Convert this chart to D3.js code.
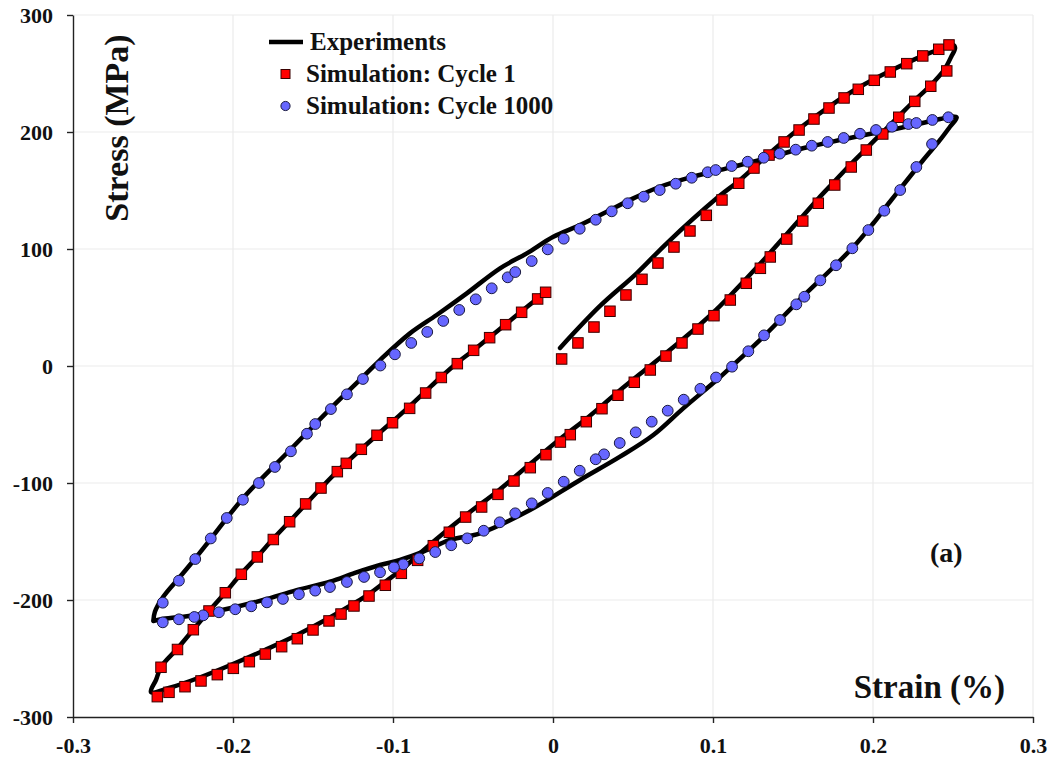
<!DOCTYPE html>
<html>
<head>
<meta charset="utf-8">
<script src="https://cdn.jsdelivr.net/npm/d3@7"></script>
<style>
  html, body { margin: 0; padding: 0; background: #fff; }
  svg { display: block; }
  svg text { font-family: "Liberation Serif", "Times New Roman", serif !important; font-weight: bold; }
</style>
</head>
<body>
<svg id="chart" width="1056" height="767"></svg>
<script>
// ---------------- DATA ----------------
const xTicks = [-0.3, -0.2, -0.1, 0, 0.1, 0.2, 0.3];
const xTickLabels = ["-0.3", "-0.2", "-0.1", "0", "0.1", "0.2", "0.3"];
const yTicks = [-300, -200, -100, 0, 100, 200, 300];
const yTickLabels = ["-300", "-200", "-100", "0", "100", "200", "300"];

const seriesNames = ["Experiments", "Simulation: Cycle 1", "Simulation: Cycle 1000"];
const xTitle = "Strain (%)";
const yTitle = "Stress (MPa)";
const panelLabel = "(a)";

// Experiments, cycle 1 (open path) [strain %, stress MPa]
const expCycle1 = [
  [0.0044,15.4],[0.0294,51.3],[0.0523,79.2],[0.0711,104.9],[0.1023,143.3],[0.1169,159.0],
  [0.1356,182.1],[0.1544,203.4],[0.1731,222.2],[0.1906,237.6],[0.2106,252.1],[0.2306,264.9],
  [0.2419,270.9],[0.2500,274.4],[0.2513,271.8],[0.2488,264.1],[0.2444,253.0],[0.2356,239.3],
  [0.2256,226.5],[0.2156,212.8],[0.2056,199.2],[0.1956,185.5],[0.1856,171.8],[0.1756,157.3],
  [0.1656,142.8],[0.1556,127.4],[0.1456,112.0],[0.1356,96.6],[0.1206,74.4],[0.1006,46.2],
  [0.0806,22.2],[0.0606,0.0],[0.0406,-22.2],[0.0206,-45.3],[0.0044,-62.4],[-0.0144,-83.8],
  [-0.0344,-106.8],[-0.0544,-127.4],[-0.0750,-150.4],[-0.0850,-162.4],[-0.0950,-174.4],
  [-0.1050,-184.6],[-0.1150,-194.9],[-0.1250,-203.4],[-0.1400,-215.4],[-0.1600,-229.9],
  [-0.1800,-242.7],[-0.2000,-254.7],[-0.2200,-265.8],[-0.2400,-275.2],[-0.2513,-278.6],
  [-0.2481,-268.3],[-0.2450,-257.3],[-0.2350,-241.9],[-0.2250,-225.6],[-0.2150,-209.4],
  [-0.2050,-194.0],[-0.1950,-177.8],[-0.1850,-163.2],[-0.1750,-147.9],[-0.1644,-132.5],
  [-0.1544,-117.9],[-0.1450,-104.3],[-0.1294,-82.9],[-0.1100,-59.0],[-0.1000,-47.0],
  [-0.0900,-35.0],[-0.0800,-22.2],[-0.0700,-9.4],[-0.0600,2.6],[-0.0494,13.7],[-0.0394,24.8],
  [-0.0294,35.9],[-0.0194,47.0],[-0.0094,58.1],[-0.0037,65.0]
];

// Experiments, cycle 1000 (closed loop)
const expCycle1000 = [
  [-0.2498,-217.9],[-0.2488,-210.0],[-0.2436,-197.2],[-0.2331,-180.1],[-0.2227,-163.0],
  [-0.2144,-148.7],[-0.1936,-112.8],[-0.1644,-71.8],[-0.1394,-36.8],[-0.1186,-9.1],
  [-0.1081,5.1],[-0.0894,27.9],[-0.0727,43.6],[-0.0539,62.1],[-0.0331,83.5],[-0.0164,96.3],
  [0.0002,110.5],[0.0169,120.5],[0.0336,131.9],[0.0502,143.3],[0.0669,153.2],[0.0836,160.4],
  [0.1002,166.1],[0.1294,176.1],[0.1544,185.5],[0.1856,194.9],[0.2169,203.4],[0.2419,211.1],
  [0.2494,213.2],[0.2523,212.4],[0.2481,204.5],[0.2419,193.2],[0.2314,176.1],[0.2189,154.7],
  [0.2106,140.4],[0.2002,122.0],[0.1898,104.9],[0.1752,84.4],[0.1544,57.0],[0.1336,27.9],
  [0.1127,0.9],[0.1023,-12.0],[0.0814,-36.2],[0.0627,-59.0],[0.0419,-77.5],[0.0169,-97.4],
  [-0.0144,-123.1],[-0.0456,-143.0],[-0.0644,-148.7],[-0.0811,-158.7],[-0.0956,-165.8],
  [-0.1081,-170.1],[-0.1238,-176.9],[-0.1394,-184.4],[-0.1602,-191.5],[-0.1811,-200.0],
  [-0.2019,-207.1],[-0.2227,-212.8],[-0.2436,-216.2],[-0.2498,-217.9]
];

// Simulation, cycle 1 (squares)
const simCycle1 = [
  [0.0054,6.0],[0.0156,19.7],[0.0256,33.3],[0.0356,46.8],[0.0456,60.7],[0.0556,74.1],
  [0.0656,88.0],[0.0756,101.7],[0.0856,115.4],[0.0958,128.8],[0.1056,141.9],[0.1161,156.2],
  [0.1256,169.2],[0.1350,180.3],[0.1444,191.5],[0.1538,201.7],[0.1631,211.1],[0.1725,220.5],
  [0.1819,229.1],[0.1908,236.5],[0.2008,244.2],[0.2108,251.3],[0.2211,258.4],[0.2311,265.0],
  [0.2411,270.7],[0.2475,274.4],
  [0.2461,252.2],[0.2361,239.1],[0.2261,226.2],[0.2161,212.6],[0.2061,198.3],[0.1958,184.6],
  [0.1864,170.1],[0.1761,154.7],[0.1658,139.1],[0.1561,123.9],[0.1461,108.5],[0.1358,93.2],
  [0.1296,83.5],[0.1208,70.7],[0.1108,56.4],[0.1006,43.0],[0.0906,31.6],[0.0806,19.7],
  [0.0706,8.5],[0.0608,-3.4],[0.0508,-13.9],[0.0406,-25.0],[0.0306,-36.5],[0.0208,-47.6],
  [0.0108,-58.7],[0.0046,-65.0],[-0.0044,-75.8],[-0.0142,-86.9],[-0.0244,-98.3],
  [-0.0344,-109.7],[-0.0446,-120.5],[-0.0546,-129.1],[-0.0648,-142.1],[-0.0748,-153.6],
  [-0.0846,-166.1],[-0.0948,-177.2],[-0.1048,-187.4],[-0.1150,-196.6],[-0.1244,-205.1],
  [-0.1325,-212.0],[-0.1400,-217.9],[-0.1500,-225.6],[-0.1598,-233.1],[-0.1696,-239.9],
  [-0.1798,-246.2],[-0.1898,-252.7],[-0.1998,-258.4],[-0.2098,-263.8],[-0.2200,-269.2],
  [-0.2300,-274.1],[-0.2400,-278.9],[-0.2473,-282.6],
  [-0.2450,-257.5],[-0.2347,-242.3],[-0.2248,-225.4],[-0.2150,-209.4],[-0.2048,-193.8],
  [-0.1948,-178.0],[-0.1848,-163.2],[-0.1748,-148.3],[-0.1646,-133.1],[-0.1546,-117.9],
  [-0.1450,-104.3],[-0.1348,-90.3],[-0.1292,-83.2],[-0.1198,-71.2],[-0.1100,-59.2],
  [-0.1003,-48.5],[-0.0896,-36.2],[-0.0796,-23.1],[-0.0698,-9.8],[-0.0598,2.0],
  [-0.0496,13.4],[-0.0396,24.2],[-0.0296,35.3],[-0.0196,45.9],[-0.0096,57.3],[-0.0046,63.0]
];

// Simulation, cycle 1000 (circles)
const simCycle1000 = [
  [0.2369,189.7],[0.2271,170.1],[0.2170,150.4],[0.2071,132.7],[0.1971,116.2],[0.1871,100.6],
  [0.1769,86.1],[0.1671,73.2],[0.1571,59.2],[0.1521,52.7],[0.1419,39.3],[0.1319,26.2],
  [0.1221,12.6],[0.1119,-0.6],[0.1019,-9.8],[0.0921,-19.5],[0.0817,-28.8],[0.0717,-38.2],
  [0.0617,-47.6],[0.0517,-56.7],[0.0417,-65.8],[0.0319,-75.5],[0.0267,-79.7],[0.0167,-89.5],
  [0.0067,-98.9],[-0.0033,-108.5],[-0.0133,-117.4],[-0.0236,-125.9],[-0.0333,-133.6],
  [-0.0433,-140.8],[-0.0536,-147.3],[-0.0636,-153.2],[-0.0736,-159.0],[-0.0836,-164.4],
  [-0.0936,-169.5],[-0.0994,-172.1],[-0.1081,-176.3],[-0.1181,-180.3],[-0.1288,-184.6],
  [-0.1394,-188.9],[-0.1486,-192.0],[-0.1588,-195.1],[-0.1688,-199.1],[-0.1788,-202.0],
  [-0.1886,-205.4],[-0.1986,-207.9],[-0.2088,-210.5],[-0.2186,-213.1],[-0.2242,-214.5],
  [-0.2338,-216.5],[-0.2439,-219.1],
  [-0.2439,-202.3],[-0.2338,-183.5],[-0.2236,-165.0],[-0.2139,-147.4],[-0.2039,-129.9],
  [-0.1938,-114.3],[-0.1838,-100.0],[-0.1738,-86.3],[-0.1638,-72.9],[-0.1538,-57.9],
  [-0.1486,-49.6],[-0.1388,-36.8],[-0.1288,-24.2],[-0.1188,-11.1],[-0.1079,0.4],
  [-0.0988,10.0],[-0.0886,19.7],[-0.0786,29.1],[-0.0686,38.5],[-0.0586,47.9],[-0.0483,57.0],
  [-0.0383,66.4],[-0.0283,75.8],[-0.0236,80.3],[-0.0133,89.7],[-0.0033,99.7],[0.0067,108.8],
  [0.0167,117.3],[0.0267,125.0],[0.0367,132.2],[0.0467,139.1],[0.0567,144.7],[0.0667,150.4],
  [0.0767,155.8],[0.0867,160.9],[0.0967,165.6],[0.1017,167.5],[0.1117,170.9],[0.1217,174.6],
  [0.1317,178.0],[0.1417,181.5],[0.1517,184.9],[0.1617,188.3],[0.1717,191.5],[0.1817,194.9],
  [0.1919,198.5],[0.2019,201.7],[0.2119,204.5],[0.2221,206.8],[0.2271,207.7],[0.2371,210.3],
  [0.2471,212.6]
];

// ---------------- CHART ----------------
const FONT = '"Liberation Serif", "Times New Roman", serif';
const svg = d3.select("#chart");
const L = 73, R = 1033, T = 15, B = 717;
const x = d3.scaleLinear().domain([-0.3, 0.3]).range([L, R]);
const y = d3.scaleLinear().domain([-300, 300]).range([B, T]);

// gridlines
const grid = svg.append("g");
grid.selectAll("line.gx").data(xTicks.slice(1)).join("line")
  .attr("x1", d => x(d)).attr("x2", d => x(d)).attr("y1", T).attr("y2", B)
  .attr("stroke", "#ebebeb").attr("stroke-width", 1.2);
grid.selectAll("line.gy").data(yTicks.slice(1)).join("line")
  .attr("x1", L).attr("x2", R).attr("y1", d => y(d)).attr("y2", d => y(d))
  .attr("stroke", "#ebebeb").attr("stroke-width", 1.2);

// axes
const xAxis = d3.axisBottom(x).tickValues(xTicks).tickSize(6).tickSizeOuter(0)
  .tickFormat((d, i) => xTickLabels[i]);
const yAxis = d3.axisLeft(y).tickValues(yTicks).tickSize(6).tickSizeOuter(0)
  .tickFormat((d, i) => yTickLabels[i]);

const gx = svg.append("g").attr("transform", `translate(0,${B})`).call(xAxis);
const gy = svg.append("g").attr("transform", `translate(${L},0)`).call(yAxis);
[gx, gy].forEach(g => {
  g.attr("font-family", FONT).attr("font-size", 22).attr("font-weight", "bold");
  g.select(".domain").attr("stroke", "#222").attr("stroke-width", 1.4);
  g.selectAll(".tick line").attr("stroke", "#222").attr("stroke-width", 1.4);
  g.selectAll(".tick text").attr("fill", "#111").attr("font-family", FONT)
    .attr("font-weight", "bold").attr("font-size", 22);
});
gx.selectAll(".tick text").attr("y", 36).attr("dy", 0);
gy.selectAll(".tick text").attr("x", -20).attr("dy", "0.34em");

// experiment lines
const line = d3.line().x(d => x(d[0])).y(d => y(d[1])).curve(d3.curveCatmullRom.alpha(0.5));
svg.append("path").datum(expCycle1000).attr("d", line)
  .attr("fill", "none").attr("stroke", "#000").attr("stroke-width", 4.5)
  .attr("stroke-linejoin", "round").attr("stroke-linecap", "round");
svg.append("path").datum(expCycle1).attr("d", line)
  .attr("fill", "none").attr("stroke", "#000").attr("stroke-width", 4.5)
  .attr("stroke-linejoin", "round").attr("stroke-linecap", "round");

// simulation markers
const sq = 10.5;
svg.append("g").selectAll("rect").data(simCycle1).join("rect")
  .attr("x", d => x(d[0]) - sq / 2).attr("y", d => y(d[1]) - sq / 2)
  .attr("width", sq).attr("height", sq)
  .attr("fill", "#ff0000").attr("stroke", "#3a0000").attr("stroke-width", 1);
svg.append("g").selectAll("circle").data(simCycle1000).join("circle")
  .attr("cx", d => x(d[0])).attr("cy", d => y(d[1])).attr("r", 5.4)
  .attr("fill", "#6666ff").attr("stroke", "#1a1a40").attr("stroke-width", 1);

// axis titles
svg.append("text").attr("x", 1005).attr("y", 698).attr("text-anchor", "end")
  .attr("font-family", FONT).attr("font-weight", "bold")
  .attr("font-size", 33).attr("fill", "#111").text(xTitle);
svg.append("text").attr("transform", "translate(128,128) rotate(-90)")
  .attr("text-anchor", "middle").attr("font-family", FONT).attr("font-weight", "bold")
  .attr("font-size", 34).attr("fill", "#111").text(yTitle);

// panel label
svg.append("text").attr("x", 930).attr("y", 562).attr("font-family", FONT)
  .attr("font-weight", "bold").attr("font-size", 28).attr("fill", "#111").text(panelLabel);

// legend
const lg = svg.append("g");
const rows = [42, 74, 106];
lg.append("line").attr("x1", 269).attr("x2", 303).attr("y1", rows[0]).attr("y2", rows[0])
  .attr("stroke", "#000").attr("stroke-width", 4.5);
lg.append("rect").attr("x", 281).attr("y", rows[1] - 4.5).attr("width", 9).attr("height", 9)
  .attr("fill", "#ff0000").attr("stroke", "#3a0000").attr("stroke-width", 1);
lg.append("circle").attr("cx", 285.5).attr("cy", rows[2]).attr("r", 4.6)
  .attr("fill", "#6666ff").attr("stroke", "#1a1a40").attr("stroke-width", 1);
lg.selectAll("text").data(seriesNames).join("text")
  .attr("x", (d, i) => i === 0 ? 310 : 306).attr("y", (d, i) => rows[i] + 8)
  .attr("font-family", FONT).attr("font-weight", "bold")
  .attr("font-size", 25).attr("fill", "#111").text(d => d);
</script>
</body>
</html>
